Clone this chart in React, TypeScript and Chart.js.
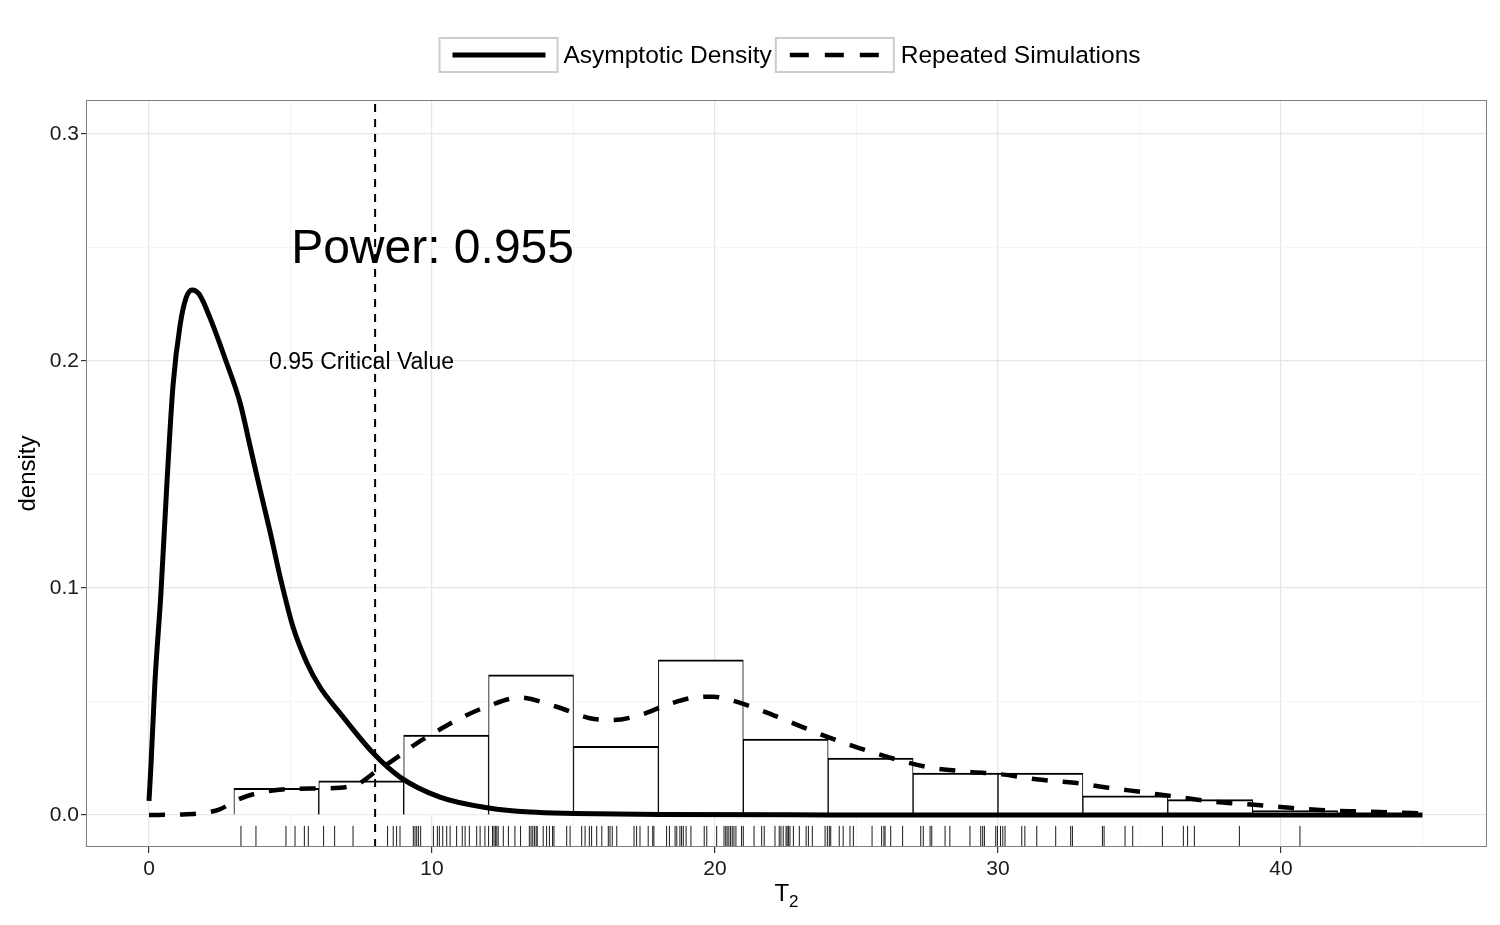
import React, { useEffect, useRef } from "react";
import { Chart, registerables } from "chart.js";

Chart.register(...registerables);

const FONT = "'Liberation Sans', Arimo, Arial, Helvetica, sans-serif";

// Asymptotic density (solid curve)
const asymX = [0, 0.07, 0.21, 0.42, 0.64, 0.85, 1.1, 1.31, 1.52, 1.77, 2.16, 2.72, 3.22, 3.57, 3.92, 4.28, 4.66, 5.09, 5.58, 6.04, 6.75, 7.92, 8.87, 10.28, 12.01, 13.46, 15.02, 18.06, 24, 30, 45];
const asymY = [0.0062, 0.022, 0.0586, 0.0974, 0.1476, 0.1894, 0.2159, 0.2278, 0.2313, 0.2295, 0.2189, 0.2, 0.1815, 0.1626, 0.1436, 0.1247, 0.1035, 0.0828, 0.067, 0.0564, 0.0449, 0.0273, 0.0167, 0.0079, 0.0031, 0.0013, 0.0007, 0.0002, 0.00005, 0, 0];

// Repeated simulations density (dashed curve)
const simX = [0, 1, 1.8, 2.5, 3.1, 3.8, 4.98, 6.75, 7.46, 7.93, 8.63, 9.46, 10.05, 10.87, 11.93, 13.1, 14.4, 15.58, 16.4, 17.35, 18.29, 19.23, 19.94, 20.53, 21.59, 22.77, 23.95, 25.12, 26.48, 27.56, 28.9, 30.13, 31.35, 32.7, 33.92, 35.14, 36.31, 37.6, 38.84, 40.08, 41.38, 42.6, 43.85, 45];
const simY = [0, 0.0002, 0.0007, 0.0025, 0.0066, 0.0095, 0.0115, 0.012, 0.0142, 0.0184, 0.0242, 0.0316, 0.036, 0.0418, 0.0477, 0.0517, 0.0477, 0.0426, 0.0418, 0.044, 0.0485, 0.0517, 0.0521, 0.0507, 0.0463, 0.0404, 0.0345, 0.0294, 0.0242, 0.021, 0.0191, 0.0179, 0.0157, 0.0142, 0.012, 0.01, 0.008, 0.0059, 0.0047, 0.0034, 0.0022, 0.0016, 0.0012, 0.0007];

// Histogram (binwidth 3)
const binCenters = [4.5, 7.5, 10.5, 13.5, 16.5, 19.5, 22.5, 25.5, 28.5, 31.5, 34.5, 37.5, 40.5];
const binDensity = [0.0117, 0.015, 0.0352, 0.0617, 0.0302, 0.0684, 0.0335, 0.0251, 0.0185, 0.0185, 0.0084, 0.0068, 0.002];

// Rug of simulated statistics
const rugValues = [3.25, 3.78, 4.84, 5.16, 5.49, 5.63, 6.17, 6.56, 7.21, 8.43, 8.63, 8.75, 8.87, 9.34, 9.4, 9.46, 9.52, 9.6, 10.05, 10.19, 10.26, 10.38, 10.52, 10.64, 10.87, 11.07, 11.17, 11.32, 11.58, 11.7, 11.87, 12.0, 12.14, 12.19, 12.24, 12.29, 12.34, 12.52, 12.7, 12.93, 13.13, 13.44, 13.5, 13.56, 13.62, 13.68, 13.72, 13.93, 14.05, 14.15, 14.26, 14.31, 14.76, 14.88, 15.29, 15.41, 15.56, 15.64, 15.82, 16.0, 16.23, 16.29, 16.37, 16.53, 17.14, 17.23, 17.35, 17.64, 17.8, 17.84, 18.29, 18.39, 18.59, 18.65, 18.76, 18.82, 18.88, 18.98, 19.15, 19.62, 19.71, 20.06, 20.32, 20.38, 20.43, 20.49, 20.55, 20.61, 20.67, 20.74, 20.94, 21.0, 21.38, 21.65, 21.74, 22.12, 22.27, 22.33, 22.41, 22.51, 22.55, 22.6, 22.65, 22.77, 22.98, 23.22, 23.3, 23.44, 23.89, 23.97, 24.04, 24.09, 24.39, 24.53, 24.77, 24.89, 25.55, 25.89, 25.97, 26.01, 26.21, 26.63, 27.27, 27.36, 27.6, 27.66, 28.13, 28.3, 29.01, 29.39, 29.46, 29.52, 29.92, 29.98, 30.09, 30.17, 30.25, 30.84, 30.95, 31.37, 32.04, 32.57, 32.63, 33.69, 33.75, 34.49, 34.76, 35.81, 36.55, 36.7, 36.94, 38.53, 40.67];

const criticalValue = 7.99;

const xTicks = [0, 5, 10, 15, 20, 25, 30, 35, 40, 45];
const yTicks = [0, 0.05, 0.1, 0.15, 0.2, 0.25, 0.3];
const X_MIN = -2.226;
const X_MAX = 47.28;
const Y_MIN = -0.0141;
const Y_MAX = 0.315;
const RUG_TOP = -0.0048;

const powerText = "Power: 0.955";
const powerX = 10.02;
const powerY = 0.249;
const critText = "0.95 Critical Value";
const critX = 7.51;
const critY = 0.1993;

const legendLabels = ["Asymptotic Density", "Repeated Simulations"];

const isMajor = (v: number, step: number) => Math.abs(v / step - Math.round(v / step)) < 1e-6;

const decorPlugin = {
  id: "decor",
  afterDraw(chart: any) {
    const ctx = chart.ctx;
    const { left, top, right, bottom } = chart.chartArea;
    const xs = chart.scales.x;
    const ys = chart.scales.y;
    ctx.save();
    // panel border
    ctx.strokeStyle = "#7f7f7f";
    ctx.lineWidth = 1;
    ctx.setLineDash([]);
    ctx.strokeRect(left + 0.5, top + 0.5, right - left - 1, bottom - top - 1);

    // annotations
    ctx.fillStyle = "#000";
    ctx.textAlign = "center";
    ctx.textBaseline = "middle";
    ctx.font = `48px ${FONT}`;
    ctx.fillText(powerText, xs.getPixelForValue(powerX), ys.getPixelForValue(powerY));
    ctx.font = `23px ${FONT}`;
    ctx.fillText(critText, xs.getPixelForValue(critX), ys.getPixelForValue(critY));

    // x axis title T_2
    ctx.textAlign = "left";
    ctx.textBaseline = "alphabetic";
    ctx.font = `24px ${FONT}`;
    const tW = ctx.measureText("T").width;
    ctx.font = `17px ${FONT}`;
    const sW = ctx.measureText("2").width;
    const cx = (left + right) / 2;
    const sx = cx - (tW + sW) / 2;
    ctx.font = `24px ${FONT}`;
    ctx.fillText("T", sx, 901);
    ctx.font = `17px ${FONT}`;
    ctx.fillText("2", sx + tW, 907);

    // legend
    const ds = chart.data.datasets;
    const styles = [ds[3], ds[2]];
    ctx.font = `24.5px ${FONT}`;
    const w1 = ctx.measureText(legendLabels[0]).width;
    const w2 = ctx.measureText(legendLabels[1]).width;
    const boxW = 118;
    const boxH = 34;
    const total = boxW + 6 + w1 + 4 + boxW + 7 + w2;
    let x = 790 - total / 2;
    const cy = 55;
    const items = [
      { style: styles[0], label: legendLabels[0], w: w1, gapAfter: 4, gapText: 6, dash: [] as number[], x0: 13, x1: 106 },
      { style: styles[1], label: legendLabels[1], w: w2, gapAfter: 0, gapText: 7, dash: [19, 16], x0: 14, x1: 105 },
    ];
    for (const it of items) {
      ctx.setLineDash([]);
      ctx.strokeStyle = "#cccccc";
      ctx.lineWidth = 2;
      ctx.strokeRect(x, cy - boxH / 2, boxW, boxH);
      ctx.beginPath();
      ctx.strokeStyle = it.style.borderColor;
      ctx.lineWidth = it.style.borderWidth;
      ctx.setLineDash(it.dash);
      ctx.moveTo(x + it.x0, cy);
      ctx.lineTo(x + it.x1, cy);
      ctx.stroke();
      ctx.setLineDash([]);
      ctx.fillStyle = "#000";
      ctx.textAlign = "left";
      ctx.textBaseline = "middle";
      ctx.font = `24.5px ${FONT}`;
      ctx.fillText(it.label, x + boxW + it.gapText, cy + 1);
      x += boxW + it.gapText + it.w + it.gapAfter;
    }
    ctx.restore();
  },
};

export default function App() {
  const canvasRef = useRef<HTMLCanvasElement | null>(null);

  useEffect(() => {
    const canvas = canvasRef.current;
    if (!canvas) return;

    const rugData: any[] = [];
    rugValues.forEach((v) => {
      rugData.push({ x: v, y: Y_MIN });
      rugData.push({ x: v, y: RUG_TOP });
      rugData.push({ x: v, y: null });
    });

    const chart = new Chart(canvas, {
      type: "line",
      data: {
        datasets: [
          {
            type: "bar",
            label: "hist",
            data: binCenters.map((c, i) => ({ x: c, y: binDensity[i] })),
            backgroundColor: "#ffffff",
            borderColor: "#000000",
            borderWidth: { top: 2, left: 1, right: 1, bottom: 0 },
            borderSkipped: false,
            barPercentage: 1,
            categoryPercentage: 1,
            order: 10,
          } as any,
          {
            label: "rug",
            data: rugData,
            borderColor: "rgba(0,0,0,0.9)",
            borderWidth: 1,
            pointRadius: 0,
            spanGaps: false,
            tension: 0,
            order: 9,
          },
          {
            label: "Repeated Simulations",
            data: simX.map((x, i) => ({ x, y: simY[i] })),
            borderColor: "#000000",
            borderWidth: 4.5,
            borderDash: [16, 15],
            borderCapStyle: "butt",
            pointRadius: 0,
            cubicInterpolationMode: "monotone",
            order: 2,
          },
          {
            label: "Asymptotic Density",
            data: asymX.map((x, i) => ({ x, y: asymY[i] })),
            borderColor: "#000000",
            borderWidth: 5,
            borderJoinStyle: "round",
            pointRadius: 0,
            cubicInterpolationMode: "monotone",
            order: 1,
          },
          {
            label: "critical",
            data: [
              { x: criticalValue, y: Y_MIN },
              { x: criticalValue, y: Y_MAX },
            ],
            borderColor: "#000000",
            borderWidth: 2,
            borderDash: [8, 7],
            pointRadius: 0,
            tension: 0,
            order: 0,
          },
        ],
      },
      options: {
        animation: false,
        responsive: false,
        events: [],
        layout: { padding: { top: 100, right: 13, left: 0, bottom: 0 } },
        plugins: {
          legend: { display: false },
          tooltip: { enabled: false },
          title: { display: false },
        },
        scales: {
          x: {
            type: "linear",
            min: X_MIN,
            max: X_MAX,
            offset: false,
            afterBuildTicks: (scale: any) => {
              scale.ticks = xTicks.map((v) => ({ value: v }));
            },
            afterFit: (scale: any) => {
              scale.height = 78;
            },
            border: { display: false },
            grid: {
              offset: false,
              color: (c: any) => (c.tick && isMajor(c.tick.value, 10) ? "#e6e6e6" : "#f5f5f5"),
              lineWidth: (c: any) => (c.tick && isMajor(c.tick.value, 10) ? 1.2 : 1),
              tickColor: (c: any) => (c.tick && isMajor(c.tick.value, 10) ? "#333333" : "rgba(0,0,0,0)"),
              tickLength: 6,
              drawTicks: true,
            },
            ticks: {
              autoSkip: false,
              maxRotation: 0,
              padding: 4,
              color: "#1a1a1a",
              font: { family: FONT, size: 21 },
              callback: (v: any) => (isMajor(Number(v), 10) ? String(Math.round(Number(v))) : ""),
            },
            title: { display: false },
          },
          y: {
            type: "linear",
            min: Y_MIN,
            max: Y_MAX,
            afterBuildTicks: (scale: any) => {
              scale.ticks = yTicks.map((v) => ({ value: v }));
            },
            afterFit: (scale: any) => {
              scale.width = 86;
            },
            border: { display: false },
            grid: {
              offset: false,
              color: (c: any) => (c.tick && isMajor(c.tick.value, 0.1) ? "#e6e6e6" : "#f5f5f5"),
              lineWidth: (c: any) => (c.tick && isMajor(c.tick.value, 0.1) ? 1.2 : 1),
              tickColor: (c: any) => (c.tick && isMajor(c.tick.value, 0.1) ? "#333333" : "rgba(0,0,0,0)"),
              tickLength: 5,
              drawTicks: true,
            },
            ticks: {
              autoSkip: false,
              padding: 2,
              color: "#1a1a1a",
              font: { family: FONT, size: 21 },
              callback: (v: any) => (isMajor(Number(v), 0.1) ? Number(v).toFixed(1) : ""),
            },
            title: {
              display: true,
              text: "density",
              color: "#000000",
              font: { family: FONT, size: 24 },
              padding: { top: 14, bottom: 0 },
            },
          },
        },
      } as any,
      plugins: [decorPlugin],
    });

    return () => chart.destroy();
  }, []);

  return (
    <div style={{ position: "fixed", left: 0, top: 0, width: 1500, height: 925, background: "#ffffff" }}>
      <canvas ref={canvasRef} width={1500} height={925} style={{ display: "block", width: 1500, height: 925 }} />
    </div>
  );
}
